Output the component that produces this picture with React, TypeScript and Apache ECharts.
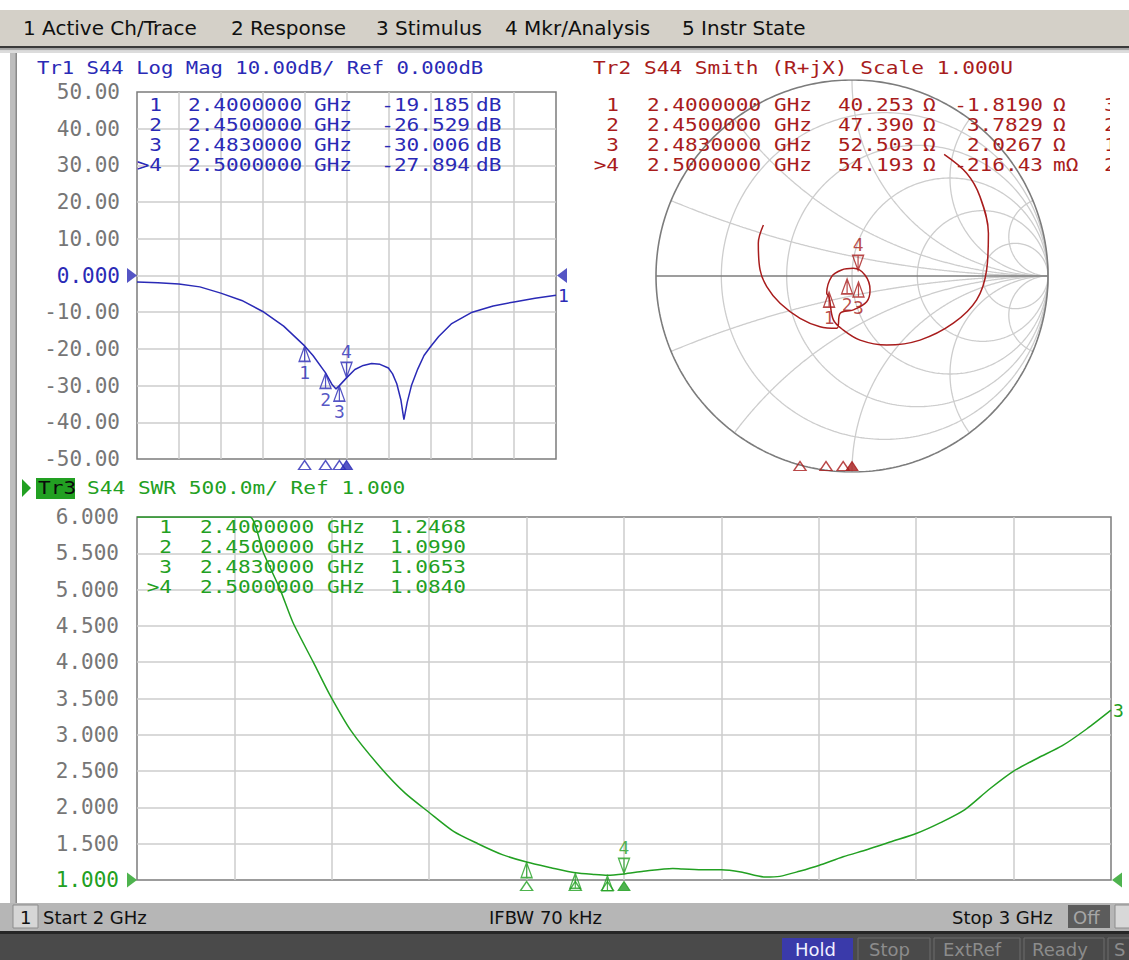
import React, { useEffect, useRef } from "react";
import * as echarts from "echarts";

// ---------------- data ----------------
const markerLabels = ["1", "2", "3", ">4"];
const markerFreqGHz = [2.4, 2.45, 2.483, 2.5];
const markerFreqText = ["2.4000000", "2.4500000", "2.4830000", "2.5000000"];
const logMagMarkerDb = [-19.185, -26.529, -30.006, -27.894];
const logMagMarkerText = ["-19.185", "-26.529", "-30.006", "-27.894"];
const smithMarkerRText = ["40.253", "47.390", "52.503", "54.193"];
const smithMarkerXText = ["-1.8190", "3.7829", "2.0267", "-216.43"];
const smithMarkerXUnit = ["Ω", "Ω", "Ω", "mΩ"];
const smithMarkerClipped = ["3", "2", "1", "2"];
const swrMarkerVal = [1.2468, 1.099, 1.0653, 1.084];
const swrMarkerText = ["1.2468", "1.0990", "1.0653", "1.0840"];
// marker positions on the Smith chart (reflection coefficient)
const smithMarkerRe = [-0.117, -0.025, 0.033, 0.031];
const smithMarkerIm = [-0.08, -0.012, -0.028, 0.026];

const logMagFreq = [2.0, 2.05, 2.1, 2.15, 2.2, 2.25, 2.3, 2.35, 2.4, 2.42, 2.45, 2.465, 2.475, 2.483, 2.5, 2.52, 2.54, 2.56, 2.58, 2.6, 2.61, 2.62, 2.63, 2.637, 2.645, 2.655, 2.67, 2.685, 2.7, 2.72, 2.75, 2.8, 2.85, 2.9, 2.95, 3.0];
const logMagDb = [-1.8, -2.0, -2.3, -3.1, -4.8, -6.8, -9.8, -13.8, -19.185, -21.8, -26.529, -29.6, -30.9, -30.006, -27.894, -25.6, -24.5, -24.0, -24.2, -25.2, -26.8, -29.5, -34.0, -39.3, -34.5, -30.0, -25.5, -21.8, -19.5, -16.6, -13.2, -10.0, -8.3, -7.2, -6.2, -5.4];

const swrFreq = [2.0, 2.05, 2.1, 2.116, 2.13, 2.147, 2.16, 2.181, 2.198, 2.22, 2.25, 2.275, 2.3, 2.325, 2.35, 2.375, 2.4, 2.425, 2.45, 2.47, 2.483, 2.5, 2.52, 2.55, 2.56, 2.58, 2.6, 2.62, 2.645, 2.66, 2.68, 2.7, 2.725, 2.75, 2.775, 2.8, 2.825, 2.85, 2.875, 2.9, 2.925, 2.95, 2.975, 3.0];
const swrVal = [6.0, 6.0, 6.0, 6.0, 5.5, 5.0, 4.55, 4.0, 3.55, 3.05, 2.55, 2.2, 1.93, 1.67, 1.5, 1.35, 1.2468, 1.17, 1.099, 1.075, 1.0653, 1.084, 1.12, 1.16, 1.15, 1.14, 1.14, 1.11, 1.04, 1.05, 1.12, 1.2, 1.32, 1.42, 1.53, 1.64, 1.79, 1.97, 2.25, 2.5, 2.68, 2.85, 3.08, 3.34];

// Smith trace (reflection coefficient re / im), 2 GHz -> 3 GHz
const smithRe = [0.47, 0.585, 0.653, 0.696, 0.687, 0.636, 0.517, 0.347, 0.177, 0.041, -0.044, -0.095, -0.117, -0.129, -0.104, -0.053, 0.007, 0.066, 0.092, 0.075, 0.007, -0.06, -0.078, -0.163, -0.265, -0.367, -0.435, -0.469, -0.478, -0.452];
const smithIm = [0.62, 0.524, 0.405, 0.218, 0.031, -0.122, -0.241, -0.327, -0.352, -0.327, -0.276, -0.224, -0.107, -0.088, -0.003, 0.031, 0.039, 0.005, -0.071, -0.131, -0.173, -0.19, -0.267, -0.259, -0.216, -0.139, -0.054, 0.031, 0.167, 0.26];

const smithRCircles = [0.2, 0.5, 1, 2, 5];
const smithXArcs = [0.2, 0.5, 1, 2, 5];

const menuItems = ["1 Active Ch/Trace", "2 Response", "3 Stimulus", "4 Mkr/Analysis", "5 Instr State"];
const menuX = [23, 231, 376, 505, 682];

// ---------------- styling ----------------
const BLUE = "#2a2ab6";
const RED = "#a81c1c";
const GREEN = "#22a022";
const GRIDC = "#cdcdcd";
const FRAME = "#7c7c7c";
const LABEL = "#767676";
const MONO = '"DejaVu Sans Mono", "Liberation Mono", monospace';
const SANS = '"DejaVu Sans", "Noto Sans", sans-serif';

const DELTA_UP = "path://M6,0L12,16L0,16ZM6,0L6,16";
const DELTA_DOWN = "path://M0,0L12,0L6,16ZM6,0L6,16";
const TRI_AXIS = "path://M6,0L12,10L0,10Z";
const ARROW_R = "path://M0,0L10,7L0,14Z";
const ARROW_L = "path://M10,0L0,7L10,14Z";

function gamma(r: number, x: number) {
  const d = (r + 1) * (r + 1) + x * x;
  return [(r * r + x * x - 1) / d, (2 * x) / d];
}
function rCircle(r: number) {
  const pts: number[][] = [];
  const c = r / (r + 1), rad = 1 / (r + 1);
  for (let i = 0; i <= 360; i++) {
    const t = (i * Math.PI) / 180;
    pts.push([c + rad * Math.cos(t), rad * Math.sin(t)]);
  }
  return pts;
}
function xArc(x: number) {
  const pts: number[][] = [];
  for (let i = 0; i < 400; i++) {
    const r = Math.tan(((i / 400) * Math.PI) / 2);
    pts.push(gamma(r, x));
  }
  pts.push([1, 0]);
  return pts;
}

function txt(x: number, y: number, s: string, color: string, font: string, size: number, align = "left", z = 10, scaleX = 1) {
  return {
    type: "text",
    x,
    y,
    z,
    scaleX,
    silent: true,
    style: { text: s, fill: color, fontFamily: font, fontSize: size, align, verticalAlign: "middle" },
  };
}
// monospace text stretched to the instrument's wide bitmap font pitch
function mono(x: number, y: number, s: string, color: string, align = "left", size = 17, scaleX = 1.24) {
  return txt(x, y, s, color, MONO, size, align, 10, scaleX);
}
function rect(x: number, y: number, w: number, h: number, fill: string, z = 1, stroke?: string) {
  return {
    type: "rect",
    z,
    silent: true,
    shape: { x, y, width: w, height: h },
    style: stroke ? { fill, stroke, lineWidth: 1 } : { fill },
  };
}

function traceMarkers(xi: number, yi: number, pts: number[][], color: string, showUpLabels = true) {
  const base = {
    type: "scatter",
    xAxisIndex: xi,
    yAxisIndex: yi,
    clip: false,
    silent: true,
    z: 6,
    symbolSize: [11, 15],
  };
  return [
    {
      ...base,
      symbol: DELTA_UP,
      symbolOffset: [0, 8],
      itemStyle: { color: "rgba(255,255,255,0)", borderColor: color, borderWidth: 1.4 },
      label: { show: showUpLabels, position: "bottom", distance: 1, formatter: "{b}", color, fontFamily: MONO, fontSize: 18 },
      data: pts.slice(0, 3).map((p, i) => ({ name: String(i + 1), value: p })),
    },
    {
      ...base,
      symbol: DELTA_DOWN,
      symbolOffset: [0, -8],
      itemStyle: { color: "rgba(255,255,255,0)", borderColor: color, borderWidth: 1.4 },
      label: { show: true, position: "top", distance: 1, formatter: "{b}", color, fontFamily: MONO, fontSize: 18 },
      data: [{ name: "4", value: pts[3] }],
    },
  ];
}
function axisTriangles(xi: number, yi: number, yv: number, color: string) {
  const base = {
    type: "scatter",
    xAxisIndex: xi,
    yAxisIndex: yi,
    clip: false,
    silent: true,
    z: 6,
    symbol: TRI_AXIS,
    symbolSize: [12, 9],
    symbolOffset: [0, 6],
  };
  return [
    {
      ...base,
      itemStyle: { color: "rgba(255,255,255,0)", borderColor: color, borderWidth: 1.4 },
      data: markerFreqGHz.slice(0, 3).map((f) => [f, yv]),
    },
    { ...base, itemStyle: { color, borderColor: color, borderWidth: 1 }, data: [[markerFreqGHz[3], yv]] },
  ];
}
function refArrows(xi: number, yi: number, yv: number, color: string) {
  const base = { type: "scatter", xAxisIndex: xi, yAxisIndex: yi, clip: false, silent: true, z: 6, symbolSize: [10, 15], itemStyle: { color } };
  return [
    { ...base, symbol: ARROW_R, symbolOffset: [-5, 0], data: [[2, yv]] },
    { ...base, symbol: ARROW_L, symbolOffset: [6, 0], data: [[3, yv]] },
  ];
}

function freqAxis(gridIndex: number) {
  return {
    gridIndex,
    type: "value",
    min: 2,
    max: 3,
    interval: 0.1,
    axisLabel: { show: false },
    axisTick: { show: false },
    axisLine: { show: false },
    splitLine: { show: true, showMinLine: false, showMaxLine: false, lineStyle: { color: GRIDC, width: 1.5 } },
  };
}

function buildOption() {
  const lm = logMagFreq.map((f, i) => [f, logMagDb[i]]);
  const swr = swrFreq.map((f, i) => [f, swrVal[i]]);
  const smith = smithRe.map((r, i) => [r, smithIm[i]]);

  const smithGridSeries: any[] = [];
  smithRCircles.forEach((r) =>
    smithGridSeries.push({ type: "line", xAxisIndex: 1, yAxisIndex: 1, silent: true, showSymbol: false, symbol: "none", z: 2, lineStyle: { color: GRIDC, width: 1.3 }, data: rCircle(r) })
  );
  smithXArcs.forEach((x) => {
    [x, -x].forEach((xx) =>
      smithGridSeries.push({ type: "line", xAxisIndex: 1, yAxisIndex: 1, silent: true, showSymbol: false, symbol: "none", z: 2, lineStyle: { color: GRIDC, width: 1.3 }, data: xArc(xx) })
    );
  });
  smithGridSeries.push({ type: "line", xAxisIndex: 1, yAxisIndex: 1, silent: true, symbol: "none", z: 3, lineStyle: { color: FRAME, width: 1.6 }, data: rCircle(0) });
  smithGridSeries.push({ type: "line", xAxisIndex: 1, yAxisIndex: 1, silent: true, symbol: "none", z: 3, lineStyle: { color: FRAME, width: 1.6 }, data: [[-1, 0], [1, 0]] });

  const graphic: any[] = [];
  // window chrome
  graphic.push(rect(0, 10, 1129, 36, "#d4d0c8"));
  graphic.push(rect(0, 46, 1129, 2.5, "#3a3a3a"));
  graphic.push(rect(0, 48.5, 1129, 2, "#a8a8a8"));
  graphic.push(rect(0, 50.5, 1129, 2.5, "#dcdcdc"));
  graphic.push(rect(10, 53, 7, 850, "#bdbdbd"));
  graphic.push(rect(15.5, 53, 1.5, 850, "#8a8a8a"));
  menuItems.forEach((m, i) => graphic.push(txt(menuX[i], 28, m, "#101010", SANS, 20)));

  // headers
  graphic.push(mono(37, 68, "Tr1 S44 Log Mag 10.00dB/ Ref 0.000dB", BLUE, "left", 18, 1.145));
  graphic.push(mono(593, 68, "Tr2 S44 Smith (R+jX) Scale 1.000U", RED, "left", 18, 1.176));
  graphic.push({ type: "polygon", z: 10, silent: true, shape: { points: [[22, 479], [31, 488], [22, 497]] }, style: { fill: GREEN } });
  graphic.push(rect(36, 478, 39, 21, GREEN, 9));
  graphic.push(mono(38, 488.5, "Tr3", "#0a0a0a", "left", 18, 1.175));
  graphic.push(mono(87, 488.5, "S44 SWR 500.0m/ Ref 1.000", GREEN, "left", 18, 1.175));

  // marker tables
  const rowsTop = [105, 125, 145, 165];
  const rowsBot = [527.5, 547.5, 567.5, 587.5];
  for (let i = 0; i < 4; i++) {
    // Tr1
    graphic.push(mono(162, rowsTop[i], markerLabels[i], BLUE, "right"));
    graphic.push(mono(188, rowsTop[i], markerFreqText[i], BLUE));
    graphic.push(mono(314, rowsTop[i], "GHz", BLUE));
    graphic.push(mono(470, rowsTop[i], logMagMarkerText[i], BLUE, "right"));
    graphic.push(mono(476, rowsTop[i], "dB", BLUE));
    // Tr2
    graphic.push(mono(619, rowsTop[i], markerLabels[i], RED, "right"));
    graphic.push(mono(647, rowsTop[i], markerFreqText[i], RED));
    graphic.push(mono(774, rowsTop[i], "GHz", RED));
    graphic.push(mono(914, rowsTop[i], smithMarkerRText[i], RED, "right"));
    graphic.push(mono(923, rowsTop[i], "Ω", RED));
    graphic.push(mono(1043, rowsTop[i], smithMarkerXText[i], RED, "right"));
    graphic.push(mono(1053, rowsTop[i], smithMarkerXUnit[i], RED));
    graphic.push(mono(1104, rowsTop[i], smithMarkerClipped[i], RED));
    // Tr3
    graphic.push(mono(172, rowsBot[i], markerLabels[i], GREEN, "right"));
    graphic.push(mono(200, rowsBot[i], markerFreqText[i], GREEN));
    graphic.push(mono(327, rowsBot[i], "GHz", GREEN));
    graphic.push(mono(466, rowsBot[i], swrMarkerText[i], GREEN, "right"));
  }
  graphic.push(rect(1110, 92, 19, 85, "#ffffff", 20));

  // status bar
  graphic.push(rect(0, 903, 1129, 28, "#b6b6b6", 21));
  graphic.push(rect(13, 905, 25, 23, "#d6d6d6", 22, "#8c8c8c"));
  graphic.push(txt(20, 917, "1", "#101010", SANS, 18, "left", 23));
  graphic.push(txt(43, 917, "Start 2 GHz", "#101010", SANS, 18, "left", 23));
  graphic.push(txt(489, 917, "IFBW 70 kHz", "#101010", SANS, 18, "left", 23));
  graphic.push(txt(952, 917, "Stop 3 GHz", "#101010", SANS, 18, "left", 23));
  graphic.push(rect(1068, 905, 42, 23, "#5c5c5c", 22));
  graphic.push(txt(1073, 917, "Off", "#a6a6a6", SANS, 18, "left", 23));
  graphic.push(rect(1115, 905, 20, 23, "#d8d8d8", 22, "#8c8c8c"));
  graphic.push(rect(0, 931, 1129, 3, "#262626", 21));
  graphic.push(rect(0, 934, 1129, 26, "#4a4a4a", 21));
  graphic.push(rect(782, 938, 71, 24, "#3a3aaa", 22));
  graphic.push(txt(795, 949.5, "Hold", "#f0f0ff", SANS, 18, "left", 23));
  graphic.push(rect(858, 938, 72, 24, "#4a4a4a", 22, "#6c6c6c"));
  graphic.push(txt(869, 949.5, "Stop", "#8c8c8c", SANS, 18, "left", 23));
  graphic.push(rect(934, 938, 86, 24, "#4a4a4a", 22, "#6c6c6c"));
  graphic.push(txt(943, 949.5, "ExtRef", "#8c8c8c", SANS, 18, "left", 23));
  graphic.push(rect(1024, 938, 80, 24, "#4a4a4a", 22, "#6c6c6c"));
  graphic.push(txt(1032, 949.5, "Ready", "#8c8c8c", SANS, 18, "left", 23));
  graphic.push(rect(1108, 938, 30, 24, "#4a4a4a", 22, "#6c6c6c"));
  graphic.push(txt(1114, 949.5, "S", "#8c8c8c", SANS, 18, "left", 23));

  return {
    animation: false,
    backgroundColor: "#ffffff",
    grid: [
      { left: 137, top: 92, width: 419, height: 367, show: true, borderColor: FRAME, borderWidth: 1.5, backgroundColor: "#fff" },
      { left: 656, top: 80, width: 392, height: 392, show: false },
      { left: 137, top: 517, width: 974, height: 363, show: true, borderColor: FRAME, borderWidth: 1.5, backgroundColor: "#fff" },
      { left: 592, top: 400, width: 520, height: 60, show: false },
    ],
    xAxis: [
      freqAxis(0),
      { gridIndex: 1, type: "value", min: -1, max: 1, show: false },
      freqAxis(2),
      { gridIndex: 3, type: "value", min: 2, max: 3, show: false },
    ],
    yAxis: [
      {
        gridIndex: 0,
        type: "value",
        min: -50,
        max: 50,
        interval: 10,
        axisTick: { show: false },
        axisLine: { show: false },
        splitLine: { show: true, showMinLine: false, showMaxLine: false, lineStyle: { color: GRIDC, width: 1.5 } },
        axisLabel: {
          margin: 17,
          fontFamily: MONO,
          fontSize: 21,
          formatter: (v: number) => (Number(v) === 0 ? "0.000" : Number(v).toFixed(2)),
          color: (v: any) => (Number(v) === 0 ? BLUE : LABEL),
        },
      },
      { gridIndex: 1, type: "value", min: -1, max: 1, show: false },
      {
        gridIndex: 2,
        type: "value",
        min: 1,
        max: 6,
        interval: 0.5,
        axisTick: { show: false },
        axisLine: { show: false },
        splitLine: { show: true, showMinLine: false, showMaxLine: false, lineStyle: { color: GRIDC, width: 1.5 } },
        axisLabel: {
          margin: 18,
          fontFamily: MONO,
          fontSize: 21,
          formatter: (v: number) => Number(v).toFixed(3),
          color: (v: any) => (Number(v) === 1 ? GREEN : LABEL),
        },
      },
      { gridIndex: 3, type: "value", min: 0, max: 1, show: false },
    ],
    series: [
      {
        type: "line",
        xAxisIndex: 0,
        yAxisIndex: 0,
        data: lm,
        symbol: "none",
        z: 4,
        lineStyle: { color: BLUE, width: 1.5 },
        endLabel: { show: true, formatter: "1", color: BLUE, fontFamily: MONO, fontSize: 18, distance: 2 },
      },
      ...traceMarkers(0, 0, markerFreqGHz.map((f, i) => [f, logMagMarkerDb[i]]), BLUE),
      ...axisTriangles(0, 0, -50, BLUE),
      ...refArrows(0, 0, 0, BLUE),
      ...smithGridSeries,
      {
        type: "line",
        xAxisIndex: 1,
        yAxisIndex: 1,
        data: smith,
        symbol: "none",
        smooth: 0.35,
        z: 4,
        lineStyle: { color: RED, width: 1.5 },
      },
      ...traceMarkers(1, 1, smithMarkerRe.map((r, i) => [r, smithMarkerIm[i]]), RED),
      ...axisTriangles(3, 3, 0, RED),
      {
        type: "line",
        xAxisIndex: 2,
        yAxisIndex: 2,
        data: swr,
        symbol: "none",
        smooth: 0.25,
        z: 4,
        lineStyle: { color: GREEN, width: 1.5 },
        endLabel: { show: true, formatter: "3", color: GREEN, fontFamily: MONO, fontSize: 18, distance: 2 },
      },
      ...traceMarkers(2, 2, markerFreqGHz.map((f, i) => [f, swrMarkerVal[i]]), GREEN, false),
      ...axisTriangles(2, 2, 1, GREEN),
      ...refArrows(2, 2, 1, GREEN),
    ],
    graphic,
  };
}

export default function App() {
  const ref = useRef<HTMLDivElement>(null);
  useEffect(() => {
    document.body.style.margin = "0";
    const chart = echarts.init(ref.current!, null, { renderer: "svg" });
    chart.setOption(buildOption() as any);
    return () => chart.dispose();
  }, []);
  return <div ref={ref} style={{ width: 1129, height: 960, background: "#fff" }} />;
}
